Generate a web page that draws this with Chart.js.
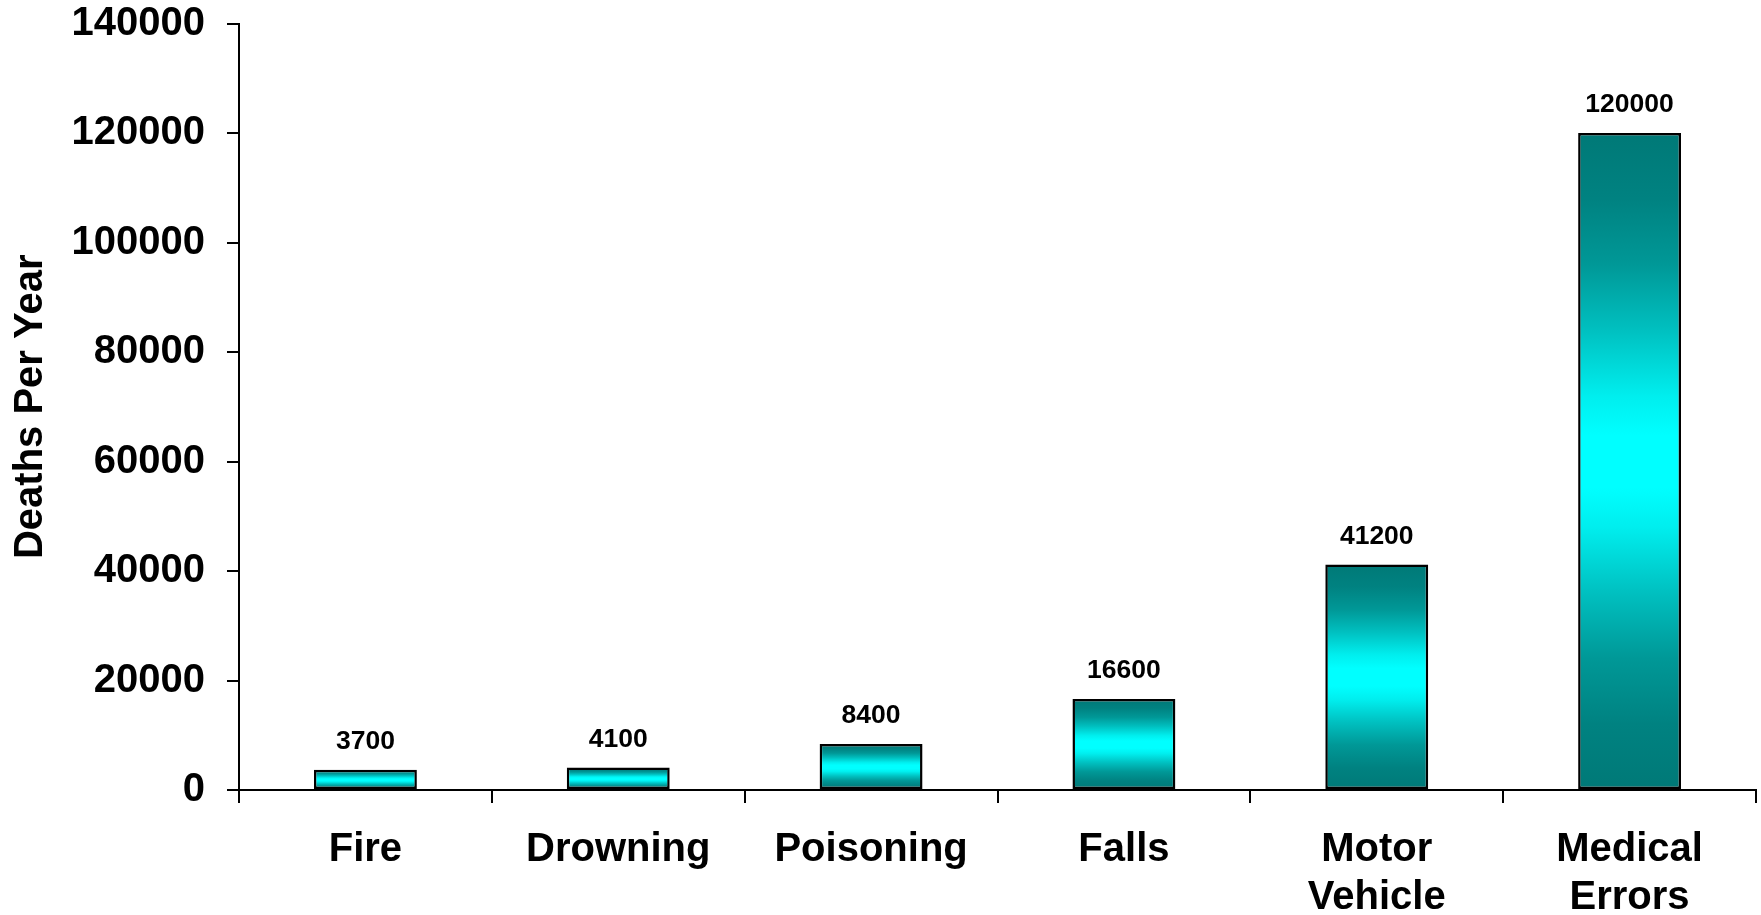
<!DOCTYPE html>
<html>
<head>
<meta charset="utf-8">
<title>Deaths Per Year</title>
<script src="https://cdn.jsdelivr.net/npm/chart.js@4"></script>
<style>
  html, body { margin: 0; padding: 0; background: #ffffff; }
  #wrap { width: 1761px; height: 915px; }
</style>
</head>
<body>
<div id="wrap"><canvas id="chart" width="1761" height="915"></canvas></div>
<script>
// Categories (multi-line labels as arrays)
const categories = ['Fire', 'Drowning', 'Poisoning', 'Falls', ['Motor', 'Vehicle'], ['Medical', 'Errors']];
// Deaths per year for each cause
const deaths = [3700, 4100, 8400, 16600, 41200, 120000];
// Value axis
const yMin = 0;
const yMax = 140000;
const yStep = 20000;

const FONT = '"Liberation Sans", Arial, Helvetica, sans-serif';
const brightCyan = '#00ffff';

// Shading ramp from the bar edge (0) to its middle (0.5): [offset, green, blue]
const shadeRamp = [
  [0.00, 121, 119],
  [0.10, 130, 129],
  [0.20, 152, 151],
  [0.30, 192, 192],
  [0.40, 238, 238],
  [0.46, 255, 255]
];

// Each bar gets its own vertical gradient: dark edges, bright centre
function barGradient(ctx) {
  const chart = ctx.chart;
  if (!chart.chartArea || ctx.type !== 'data') return brightCyan;
  const y = chart.scales.y;
  const top = y.getPixelForValue(ctx.parsed.y);
  const bottom = y.getPixelForValue(0);
  if (!isFinite(top) || !isFinite(bottom) || top === bottom) return brightCyan;
  const g = chart.ctx.createLinearGradient(0, top, 0, bottom);
  shadeRamp.forEach(([t, gr, bl]) => {
    const col = `rgb(0,${gr},${bl})`;
    g.addColorStop(t, col);
    g.addColorStop(1 - t, col);
  });
  return g;
}

// Draws the value above each bar
const valueLabels = {
  id: 'valueLabels',
  afterDatasetsDraw(chart) {
    const c = chart.ctx;
    const meta = chart.getDatasetMeta(0);
    c.save();
    c.font = 'bold 26.5px ' + FONT;
    c.fillStyle = '#000000';
    c.textAlign = 'center';
    c.textBaseline = 'middle';
    meta.data.forEach((bar, i) => {
      c.fillText(String(deaths[i]), bar.x, bar.y - 28);
    });
    c.restore();
  }
};

new Chart(document.getElementById('chart'), {
  type: 'bar',
  data: {
    labels: categories,
    datasets: [{
      data: deaths,
      backgroundColor: barGradient,
      borderColor: '#000000',
      borderWidth: 2.5,
      borderSkipped: false,
      categoryPercentage: 1,
      barPercentage: 0.407
    }]
  },
  options: {
    responsive: false,
    animation: false,
    devicePixelRatio: 1,
    layout: { padding: { top: 0, right: 5, bottom: 0, left: 0 } },
    plugins: {
      legend: { display: false },
      tooltip: { enabled: false }
    },
    scales: {
      x: {
        grid: {
          display: true,
          drawOnChartArea: false,
          drawTicks: true,
          tickLength: 13,
          color: '#000000',
          lineWidth: 2
        },
        border: { display: true, color: '#000000', width: 2 },
        ticks: {
          color: '#000000',
          font: { family: FONT, size: 40, weight: 'bold', lineHeight: 1.2 },
          padding: 23,
          maxRotation: 0,
          minRotation: 0,
          autoSkip: false
        },
        afterFit(scale) { scale.height = 125; }
      },
      y: {
        min: yMin,
        max: yMax,
        grid: {
          display: true,
          drawOnChartArea: false,
          drawTicks: true,
          tickLength: 12,
          color: '#000000',
          lineWidth: 2
        },
        border: { display: true, color: '#000000', width: 2 },
        ticks: {
          stepSize: yStep,
          color: '#000000',
          font: { family: FONT, size: 40, weight: 'bold', lineHeight: 1.2 },
          padding: 22,
          callback: (v) => String(v)
        },
        title: {
          display: true,
          text: 'Deaths Per Year',
          color: '#000000',
          font: { family: FONT, size: 40, weight: 'bold', lineHeight: 1.2 },
          padding: { top: 7, bottom: 0 }
        },
        afterFit(scale) {
          scale.width = 239;
          // room above the plot only for half of the top tick label
          scale.paddingTop = 23.5;
        }
      }
    }
  },
  plugins: [valueLabels]
});
</script>
</body>
</html>
